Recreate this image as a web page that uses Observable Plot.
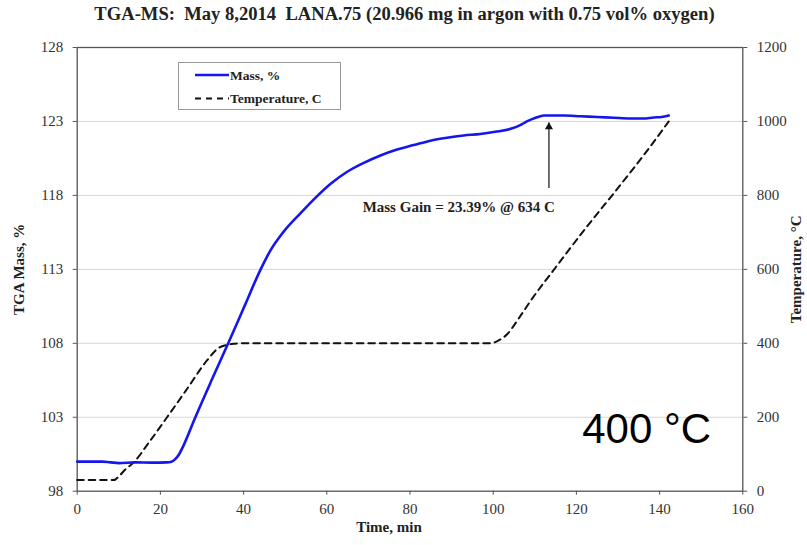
<!DOCTYPE html>
<html>
<head>
<meta charset="utf-8">
<script src="https://cdn.jsdelivr.net/npm/d3@7"></script>
<script src="https://cdn.jsdelivr.net/npm/@observablehq/plot@0.6"></script>
<style>
  body { margin: 0; background: #fff; }
  #wrap { position: relative; width: 807px; height: 545px; font-family: 'Liberation Serif', 'Times New Roman', serif; }
  #title { height: 30px; line-height: 28px; text-align: center; font-weight: bold; font-size: 18.6px; white-space: pre; color: #222; padding-left: 2px; }
  #legend { position: absolute; left: 178px; top: 62px; width: 161px; height: 46px; border: 1px solid #999; background: #fff; }
</style>
</head>
<body>
<div id="wrap">
  <div id="title"></div>
  <div id="chart"></div>
  <div id="legend"></div>
</div>
<script>
const titleText = "TGA-MS:  May 8,2014  LANA.75 (20.966 mg in argon with 0.75 vol% oxygen)";
const massTime = [0, 3, 6, 8, 10, 14, 18, 21.5, 22.5, 23.5, 24.5, 25.5, 28.4, 32.3, 36.3, 40.2, 44.1, 46.5, 49.5, 53.7, 57.5, 61, 64.9, 68.9, 72.9, 76.9, 80.9, 84.9, 88.9, 92.9, 96.9, 100.5, 104.2, 106.5, 108.1, 110.2, 112.2, 117, 121, 125, 129, 133, 136, 138.6, 140.5, 142.2];
const massValue = [100.0, 100.0, 100.0, 99.95, 99.9, 99.95, 99.93, 99.95, 99.98, 100.15, 100.5, 101.05, 103.0, 105.5, 108.0, 110.5, 113.0, 114.3, 115.5, 116.8, 117.9, 118.8, 119.6, 120.2, 120.7, 121.1, 121.4, 121.7, 121.9, 122.05, 122.15, 122.3, 122.5, 122.75, 123.0, 123.25, 123.4, 123.4, 123.35, 123.3, 123.25, 123.2, 123.2, 123.27, 123.3, 123.4];
const tempTime = [0, 8.8, 10, 11.5, 13.6, 17, 21.6, 26, 31.3, 33.7, 36, 38, 40, 60, 80, 99.6, 101, 103.4, 106, 109, 115, 122, 129, 136, 142.2];
const tempValue = [30, 30, 40, 58, 78, 128, 200, 270, 355, 385, 396, 399, 400, 400, 400, 400, 406, 425, 465, 515, 605, 708, 806, 906, 1000];
const xTicks = [0, 20, 40, 60, 80, 100, 120, 140, 160];
const massTicks = [98, 103, 108, 113, 118, 123, 128];
const tempTicks = [0, 200, 400, 600, 800, 1000, 1200];
const annotation = {text: "Mass Gain = 23.39% @ 634 C", x: 91.7, y: 117.17, arrowX: 113.4, arrowFrom: 118.5, arrowTo: 122.93};
const bigLabel = {text: "400 °C", x: 136.9, y: 102.2};

document.getElementById("title").textContent = titleText;

const massMin = 98, massMax = 128, tempMax = 1200;
const tempToMass = t => massMin + t / tempMax * (massMax - massMin);

const massData = massTime.map((t, i) => ({t, v: massValue[i]}));
const tempData = tempTime.map((t, i) => ({t, v: tempToMass(tempValue[i])}));

const plot = Plot.plot({
  width: 807,
  height: 515,
  marginTop: 17,
  marginBottom: 54.3,
  marginLeft: 76.7,
  marginRight: 64.7,
  style: {fontFamily: "'Liberation Serif', 'Times New Roman', serif", fontSize: "15px", color: "#333", background: "#fff"},
  x: {domain: [0, 160]},
  y: {domain: [massMin, massMax]},
  marks: [
    Plot.gridY(massTicks.slice(1, -1), {stroke: "#d6d6d6", strokeOpacity: 1, strokeWidth: 1}),
    Plot.axisX({ticks: xTicks, tickSize: 4, tickPadding: 8, label: null, stroke: "#555"}),
    Plot.axisY({ticks: massTicks, tickSize: 4, tickPadding: 10, label: null, stroke: "#555"}),
    Plot.axisY({anchor: "right", ticks: tempTicks.map(tempToMass), tickFormat: (d, i) => String(tempTicks[i]), tickSize: 4, tickPadding: 10, label: null, stroke: "#555"}),
    Plot.frame({stroke: "#555", strokeWidth: 1.3}),
    Plot.line(tempData, {x: "t", y: "v", stroke: "#111", strokeWidth: 2, strokeDasharray: "6.5,5", curve: "monotone-x"}),
    Plot.line(massData, {x: "t", y: "v", stroke: "#1515ee", strokeWidth: 2.6, curve: "monotone-x"}),
    Plot.link([annotation], {x1: "arrowX", x2: "arrowX", y1: "arrowFrom", y2: "arrowTo", stroke: "#111", strokeWidth: 1.2}),
    Plot.dot([annotation], {x: "arrowX", y: "arrowTo", symbol: "triangle", r: 3, fill: "#111", stroke: null, dy: 4.5}),
    Plot.text([annotation], {x: "x", y: "y", text: "text", fontWeight: "bold", fontSize: 15, fill: "#222"}),
    Plot.text([bigLabel], {x: "x", y: "y", text: "text", fontFamily: "'Liberation Sans', Arial, sans-serif", fontSize: 42, fill: "#000"}),
    Plot.text(["Time, min"], {frameAnchor: "bottom", dx: -21, dy: 41, textAnchor: "middle", text: d => d, fontWeight: "bold", fontSize: 15, fill: "#222"}),
    Plot.text(["TGA Mass, %"], {frameAnchor: "left", dx: -58, rotate: -90, textAnchor: "middle", text: d => d, fontWeight: "bold", fontSize: 15, fill: "#222"}),
    Plot.text(["Temperature, °C"], {frameAnchor: "right", dx: 53, rotate: -90, textAnchor: "middle", text: d => d, fontWeight: "bold", fontSize: 15, fill: "#222"})
  ]
});
document.getElementById("chart").appendChild(plot);

const legendItems = [
  {label: "Mass, %", stroke: "#1515ee", width: 2.6, dash: null},
  {label: "Temperature, C", stroke: "#111", width: 2, dash: "6,5"}
];
const lg = d3.select("#legend").append("svg").attr("width", 161).attr("height", 46)
  .style("font-family", "'Liberation Serif', 'Times New Roman', serif");
legendItems.forEach((it, i) => {
  const y = 12 + i * 23.5;
  lg.append("line").attr("x1", 16).attr("x2", 50).attr("y1", y).attr("y2", y)
    .attr("stroke", it.stroke).attr("stroke-width", it.width).attr("stroke-dasharray", it.dash);
  lg.append("text").attr("x", 51).attr("y", y).attr("dy", "0.35em")
    .attr("font-weight", "bold").attr("font-size", 13.5).attr("fill", "#222").text(it.label);
});
</script>
</body>
</html>
